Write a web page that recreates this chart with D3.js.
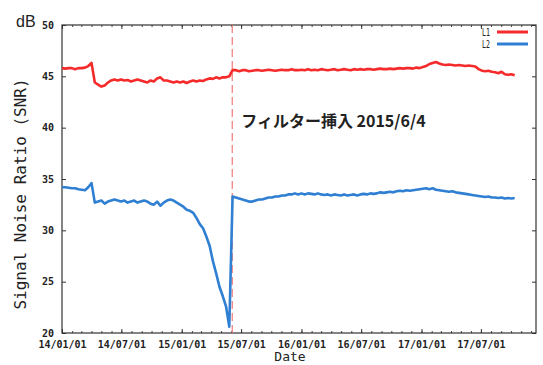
<!DOCTYPE html>
<html>
<head>
<meta charset="utf-8">
<script src="https://cdn.jsdelivr.net/npm/d3@7"></script>
<style>
  body { margin: 0; background: #fff; }
  svg { display: block; }
</style>
</head>
<body>
<svg id="chart" width="543" height="365"></svg>
<script>
// measurement every 10 days from 2014-01-01
var startDate = new Date(2014, 0, 1);
var stepDays = 10;
var filterDate = new Date(2015, 5, 4);
var filterLabel = "フィルター挿入 2015/6/4";
var seriesNames = ["L1", "L2"];
var yTicks = [20, 25, 30, 35, 40, 45, 50];

var l1 = [
  45.8, 45.75, 45.8, 45.8, 45.7, 45.8, 45.8, 45.85,
  46.0, 46.3, 44.4, 44.2, 44.0, 44.1, 44.4, 44.6,
  44.7, 44.6, 44.7, 44.6, 44.65, 44.5, 44.6, 44.7,
  44.6, 44.5, 44.4, 44.6, 44.5, 44.8, 44.9, 44.6,
  44.6, 44.5, 44.4, 44.5, 44.4, 44.5, 44.35, 44.5,
  44.6, 44.5, 44.6, 44.55, 44.7, 44.8, 44.75, 44.9,
  44.8, 44.9, 44.9, 45.0, 45.6, 45.6, 45.5, 45.6,
  45.6, 45.5, 45.55, 45.6, 45.6, 45.55, 45.6, 45.65,
  45.6, 45.55, 45.6, 45.65, 45.6, 45.6, 45.7, 45.6,
  45.6, 45.65, 45.6, 45.7, 45.6, 45.65, 45.6, 45.7,
  45.65, 45.6, 45.65, 45.7, 45.6, 45.65, 45.7, 45.65,
  45.6, 45.7, 45.65, 45.7, 45.65, 45.7, 45.7, 45.65,
  45.7, 45.75, 45.7, 45.7, 45.75, 45.7, 45.75, 45.8,
  45.75, 45.8, 45.8, 45.75, 45.85, 45.8, 45.9, 46.0,
  46.2, 46.3, 46.4, 46.25, 46.15, 46.1, 46.15, 46.1,
  46.05, 46.1, 46.05, 46.0, 46.05, 46.0, 45.95, 45.7,
  45.55, 45.5, 45.55, 45.45, 45.4, 45.3, 45.45, 45.2,
  45.15, 45.2, 45.1
];

var l2 = [
  34.2, 34.2, 34.15, 34.1, 34.1, 34.0, 33.95, 33.9,
  34.2, 34.6, 32.7, 32.8, 32.9, 32.6, 32.8, 32.9,
  33.0, 32.9, 32.8, 32.9, 32.7, 32.8, 32.9, 32.7,
  32.8, 32.9, 32.8, 32.6, 32.5, 32.8, 32.4, 32.7,
  32.9, 33.0, 32.9, 32.7, 32.5, 32.3, 32.0, 31.9,
  31.7, 31.2, 30.6, 30.2, 29.4, 28.5, 27.0, 25.8,
  24.5, 23.6, 22.6, 20.6, 33.3, 33.2, 33.1, 33.0,
  32.9, 32.8, 32.8, 32.9, 33.0, 33.0, 33.1, 33.2,
  33.2, 33.3, 33.3, 33.4, 33.4, 33.5, 33.5, 33.6,
  33.5, 33.6, 33.5, 33.6, 33.55, 33.5, 33.6, 33.5,
  33.45, 33.5, 33.4, 33.5, 33.45, 33.4, 33.5, 33.4,
  33.45, 33.5, 33.4, 33.5, 33.55, 33.5, 33.6, 33.55,
  33.6, 33.7, 33.65, 33.7, 33.75, 33.7, 33.8, 33.85,
  33.8, 33.9, 33.85, 33.9, 33.95, 34.0, 34.05, 34.1,
  34.0, 34.1, 33.95, 33.9, 33.85, 33.8, 33.75, 33.8,
  33.7, 33.65, 33.6, 33.55, 33.5, 33.45, 33.4, 33.35,
  33.3, 33.25, 33.3, 33.2, 33.2, 33.15, 33.2, 33.1,
  33.15, 33.1, 33.15
];

var svg = d3.select("#chart");
var margin = { top: 25, right: 7, bottom: 32, left: 62 };
var width = +svg.attr("width") - margin.left - margin.right;
var height = +svg.attr("height") - margin.top - margin.bottom;

var g = svg.append("g")
  .attr("transform", "translate(" + margin.left + "," + margin.top + ")");

var x = d3.scaleTime()
  .domain([startDate, new Date(2017, 11, 16)])
  .range([0, width]);
var y = d3.scaleLinear().domain([20, 50]).range([height, 0]);
var color = d3.scaleOrdinal().domain(seriesNames).range(["#f52a2a", "#2f7fd3"]);

var series = [l1, l2].map(function (vals, k) {
  return {
    name: seriesNames[k],
    values: vals.map(function (v, i) {
      return { date: d3.timeDay.offset(startDate, i * stepDays), value: v };
    })
  };
});

var fmt = d3.timeFormat("%y/%m/%d");
var majorTicks = d3.timeMonth.every(6).range(startDate, x.domain()[1]);
majorTicks.unshift(startDate);
majorTicks = majorTicks.filter(function (d, i, a) { return i === 0 || +d !== +a[i - 1]; });
var minorTicks = d3.timeMonth.every(1).range(startDate, x.domain()[1]);

// minor month ticks (bottom + top)
g.append("g")
  .attr("transform", "translate(0," + height + ")")
  .call(d3.axisBottom(x).tickValues(minorTicks).tickSize(-2).tickFormat(""))
  .call(function (a) { a.select(".domain").remove(); a.selectAll("line").attr("stroke", "#444"); });
g.append("g")
  .call(d3.axisTop(x).tickValues(minorTicks).tickSize(-2).tickFormat(""))
  .call(function (a) { a.select(".domain").remove(); a.selectAll("line").attr("stroke", "#444"); });

// major x axis
g.append("g")
  .attr("class", "axis")
  .attr("transform", "translate(0," + height + ")")
  .call(d3.axisBottom(x).tickValues(majorTicks).tickSize(-4).tickPadding(8).tickFormat(fmt))
  .call(function (a) {
    a.select(".domain").remove();
    a.selectAll("line").attr("stroke", "#333");
    a.selectAll("text")
      .attr("font-family", "DejaVu Sans Mono")
      .attr("font-weight", "bold")
      .attr("font-size", "10px")
      .attr("fill", "#222");
  });
g.append("g")
  .call(d3.axisTop(x).tickValues(majorTicks).tickSize(-4).tickFormat(""))
  .call(function (a) { a.select(".domain").remove(); a.selectAll("line").attr("stroke", "#333"); });

// y axes
g.append("g")
  .call(d3.axisLeft(y).tickValues(yTicks).tickSize(-4).tickPadding(8).tickFormat(d3.format("d")))
  .call(function (a) {
    a.select(".domain").remove();
    a.selectAll("line").attr("stroke", "#333");
    a.selectAll("text")
      .attr("font-family", "DejaVu Sans Mono")
      .attr("font-weight", "bold")
      .attr("font-size", "10px")
      .attr("fill", "#222");
  });
g.append("g")
  .attr("transform", "translate(" + width + ",0)")
  .call(d3.axisRight(y).tickValues(yTicks).tickSize(-4).tickFormat(""))
  .call(function (a) { a.select(".domain").remove(); a.selectAll("line").attr("stroke", "#333"); });

// frame
g.append("rect")
  .attr("width", width)
  .attr("height", height)
  .attr("fill", "none")
  .attr("stroke", "#333")
  .attr("stroke-width", 1.2);

// filter line
g.append("line")
  .attr("x1", x(filterDate))
  .attr("x2", x(filterDate))
  .attr("y1", 0)
  .attr("y2", height)
  .attr("stroke", "#f27a7a")
  .attr("stroke-width", 1.2)
  .attr("stroke-dasharray", "8,4");

var line = d3.line()
  .x(function (d) { return x(d.date); })
  .y(function (d) { return y(d.value); });

g.selectAll(".series")
  .data(series)
  .enter()
  .append("path")
  .attr("class", "series")
  .attr("d", function (d) { return line(d.values); })
  .attr("fill", "none")
  .attr("stroke", function (d) { return color(d.name); })
  .attr("stroke-width", 2.6)
  .attr("stroke-linejoin", "round");

// annotation
g.append("text")
  .attr("x", x(filterDate) + 9)
  .attr("y", 102)
  .attr("font-family", "Noto Sans CJK JP")
  .attr("font-weight", "bold")
  .attr("font-size", "16px")
  .attr("fill", "#222")
  .text(filterLabel);

// legend
var legend = g.append("g")
  .selectAll("g")
  .data(seriesNames)
  .enter()
  .append("g")
  .attr("transform", function (d, i) { return "translate(0," + (7 + i * 12) + ")"; });

legend.append("line")
  .attr("x1", width - 39)
  .attr("x2", width - 8)
  .attr("stroke", color)
  .attr("stroke-width", 3);

legend.append("text")
  .attr("x", width - 46)
  .attr("dy", "0.35em")
  .attr("text-anchor", "end")
  .attr("font-family", "DejaVu Sans Mono")
  .attr("font-size", "10px")
  .attr("textLength", 8)
  .attr("lengthAdjust", "spacingAndGlyphs")
  .attr("fill", "#222")
  .text(function (d) { return d; });

// axis titles
svg.append("text")
  .attr("x", 16)
  .attr("y", 27)
  .attr("font-family", "Liberation Sans")
  .attr("font-size", "16px")
  .attr("fill", "#222")
  .text("dB");

svg.append("text")
  .attr("transform", "translate(26," + (margin.top + height / 2 + 15) + ") rotate(-90)")
  .attr("text-anchor", "middle")
  .attr("font-family", "DejaVu Sans Mono")
  .attr("font-size", "16px")
  .attr("fill", "#222")
  .text("Signal Noise Ratio (SNR)");

svg.append("text")
  .attr("x", 290)
  .attr("y", 361)
  .attr("text-anchor", "middle")
  .attr("font-family", "DejaVu Sans Mono")
  .attr("font-size", "13px")
  .attr("fill", "#222")
  .text("Date");
</script>
</body>
</html>
